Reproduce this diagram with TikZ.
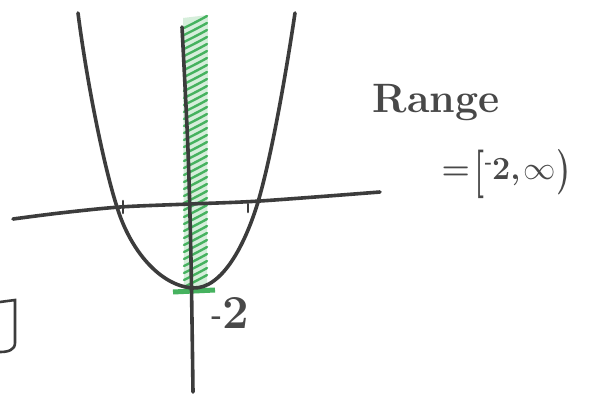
\documentclass[tikz,border=0pt]{standalone}
\usepackage{graphicx}
\definecolor{ink}{RGB}{60,60,60}
\definecolor{txt}{RGB}{72,72,72}
\definecolor{hatch}{RGB}{70,178,95}
\newcommand{\myinterval}{\textbf{=}\hspace{0.15em}\raisebox{-0.2em}{\scalebox{1}[1.5]{\textbf{[}}}\raisebox{0.35em}{\scalebox{0.6}{\textbf{-}}}\textbf{2,}\hspace{0.1em}$\infty$\raisebox{-0.12em}{\scalebox{1}[1.4]{\textbf{)}}}}
\newcommand{\myminustwo}{\raisebox{2pt}{\scalebox{0.6}{-}}2}
\tikzset{
  pen/.style={draw=ink,line width=3.6pt,line cap=round,line join=round},
  thinpen/.style={draw=ink,line width=2.6pt,line cap=round},
  greenpen/.style={draw=hatch,line width=2.4pt,line cap=round},
  hand/.style={text=txt,inner sep=0pt}
}
\begin{document}
\begin{tikzpicture}[x=1pt,y=-1pt]
\useasboundingbox (0,0) rectangle (592,396);
\fill[white] (0,0) rectangle (592,396);
% green hatched range
\fill[hatch,opacity=0.22] (183,18) -- (208,15) -- (207,288) -- (184,288) -- cycle;
\foreach \y in {22,29,...,286}{
  \draw[greenpen] (184,\y+6) .. controls (194,\y+1) and (200,\y-2) .. (207,\y-6);
}
\draw[draw=hatch,line width=5pt] (173,292) -- (215,290);
% x axis
\draw[pen] plot[smooth] coordinates {(13,219) (60,213) (120,207) (190,204) (260,201) (380,192)};
% y axis
\draw[pen] plot[smooth] coordinates {(182,27) (188,150) (191,260) (193,392)};
% parabola
\draw[pen] (78,13) .. controls (88,90) and (105,170) .. (117,207)
  .. controls (130,250) and (160,286) .. (193,288)
  .. controls (222,289) and (245,245) .. (258,202)
  .. controls (271,158) and (285,80) .. (295,13);
% ticks
\draw[thinpen] (123,201) -- (123,213);
\draw[thinpen] (248,204) -- (248,212);
% bracket at left edge
\draw[thinpen] (0,302) -- (15,300) -- (15,343) .. controls (15,350) and (8,352) .. (0,352);
% labels
\node[hand,scale=1.65,font=\Huge\bfseries] (range) at (436,103) {Range};
\node[hand,scale=1.3,font=\Huge] (interval) at (506,174) {\myinterval};
\node[hand,scale=1.9,font=\Huge\bfseries] (m2) at (230,313) {\myminustwo};
\end{tikzpicture}
\end{document}
